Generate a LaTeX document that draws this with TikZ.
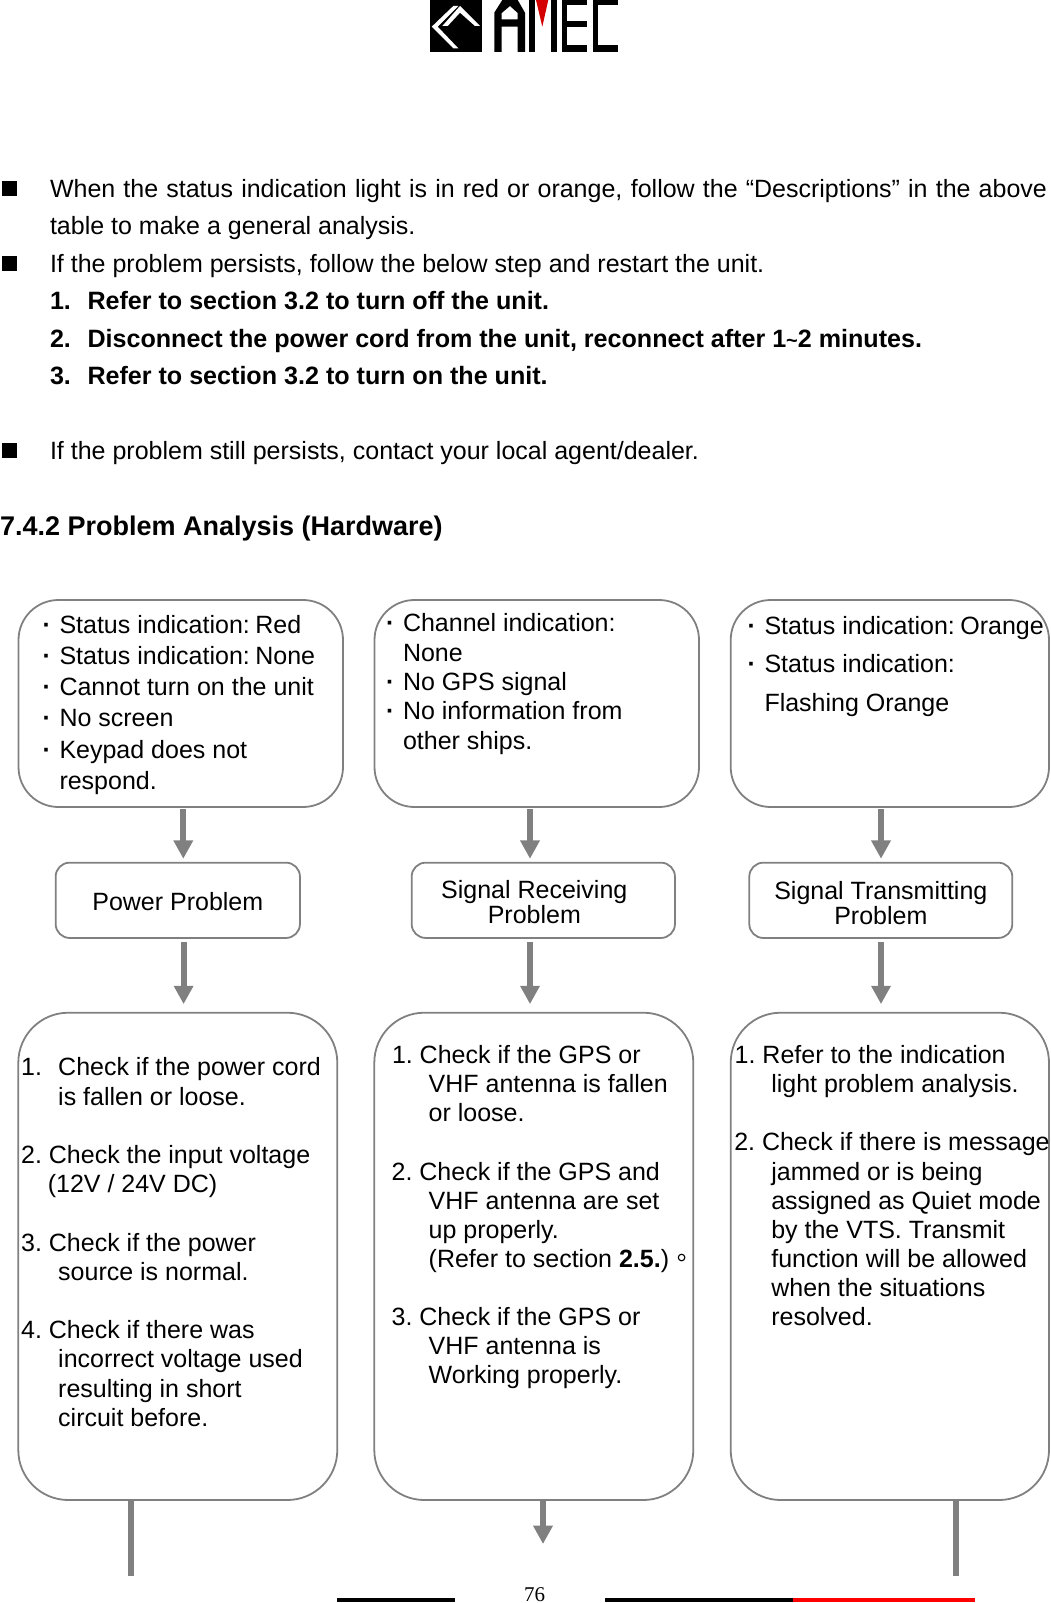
\documentclass[tikz,border=0pt]{standalone}
\usepackage{fontspec}
\setmainfont{Liberation Sans}
\newfontfamily\serifnum{Liberation Serif}
\newfontfamily\cjktc{Noto Sans CJK TC}
\usetikzlibrary{arrows.meta,positioning}

\definecolor{linegray}{HTML}{808080}
\definecolor{logored}{HTML}{D40000}
\newcommand{\dotitem}{\makebox[17pt][l]{\textbf{·}}}
\newcommand{\numitem}[1]{\makebox[37pt][l]{#1}}
\newcommand{\numgap}[1]{#1.\hspace{6.9pt}}
\newcommand{\hangline}{\hspace*{37pt}}

\tikzset{
	bigbox/.style={draw=linegray,line width=1.8pt,inner sep=0pt,outer sep=0pt},
	midbox/.style={bigbox,rounded corners=14pt,minimum height=75.3pt,align=center,font=\fontsize{25pt}{25pt}\selectfont},
	boxtext/.style={inner sep=0pt,outer sep=0pt,anchor=north west,align=left,font=\fontsize{25pt}{#1pt}\selectfont,execute at begin node={\rule{0pt}{20pt}}},
	pageline/.style={inner sep=0pt,outer sep=0pt,anchor=base west,font=\fontsize{25pt}{30pt}\selectfont},
	sqmark/.style={fill=black,inner sep=0pt,outer sep=0pt,minimum size=14.6pt},
	flow/.style={draw=linegray,line width=6pt,-{Triangle[length=18.3pt,width=18.6pt]}},
	stem/.style={draw=linegray,line width=6pt}
}

\begin{document}
\begin{tikzpicture}[x=1pt,y=-1pt]
	\useasboundingbox (0,0) rectangle (1050,1603);

	% logo
	\fill (430,0) rectangle (481.5,52);
	\fill [white] (431.7,26.7) -- (453.3,6) -- (458.3,6) -- (437.7,26.7) -- (458.3,48.3) -- (453.3,48.3) -- cycle;
	\fill [white] (442.3,26) -- (460,6) -- (480,26) -- (475,26) -- (460,12.7) -- (447.7,26) -- cycle;
	\fill [even odd rule] (494.3,52) -- (494.3,12.7) -- (502.3,0) -- (517.7,0) -- (525,12.7) -- (525,52) -- (517.7,52) -- (517.7,26.7) -- (501.7,26.7) -- (501.7,52) -- cycle
		(501.7,19.3) -- (517.7,19.3) -- (517.7,13) -- (510,6) -- (501.7,13) -- cycle;
	\fill (529,0) rectangle (535,52);
	\fill [logored] (536,0) -- (548.3,0) -- (542.3,26.7) -- cycle;
	\fill (550.7,0) rectangle (556.7,52);
	\fill (561.7,0) rectangle (566.7,52);
	\fill (561.7,0) rectangle (587.3,5);
	\fill (561.7,20.7) rectangle (587.3,26.7);
	\fill (561.7,45) rectangle (587.3,52);
	\fill (592.7,0) rectangle (598.3,52);
	\fill (592.7,0) rectangle (617.7,5);
	\fill (592.7,45) rectangle (617.7,52);

	% text above the chart
	\node [sqmark,anchor=north west] (mark1) at (2,181) {};
	\node [pageline] (line1) at (50,197.2) {\makebox[997pt][s]{When the status indication light is in red or orange, follow the “Descriptions” in the above}};
	\node [pageline] (line2) at (50,234.4) {table to make a general analysis.};
	\node [sqmark,anchor=north west] (mark2) at (2,256) {};
	\node [pageline] (line3) at (50,272.2) {If the problem persists, follow the below step and restart the unit.};
	\node [pageline,font=\fontsize{25.1pt}{30pt}\selectfont\bfseries] (step1) at (50,309.2) {\makebox[37.5pt][l]{1.}Refer to section 3.2 to turn off the unit.};
	\node [pageline,font=\fontsize{25.1pt}{30pt}\selectfont\bfseries] (step2) at (50,347.2) {\makebox[37.5pt][l]{2.}Disconnect the power cord from the unit, reconnect after 1{\fontsize{20pt}{20pt}\selectfont\textasciitilde}2 minutes.};
	\node [pageline,font=\fontsize{25.1pt}{30pt}\selectfont\bfseries] (step3) at (50,384.2) {\makebox[37.5pt][l]{3.}Refer to section 3.2 to turn on the unit.};
	\node [sqmark,anchor=north west] (mark3) at (2,443) {};
	\node [pageline] (line4) at (50,459.2) {If the problem still persists, contact your local agent/dealer.};
	\node [pageline,font=\fontsize{27pt}{30pt}\selectfont\bfseries] (title) at (0,535) {7.4.2 Problem Analysis (Hardware)};

	% first row
	\node [bigbox,rounded corners=40pt,minimum width=324.5pt,minimum height=207pt] (a1) at (180.75,703.5) {};
	\node [bigbox,rounded corners=40pt,minimum width=324.5pt,minimum height=207pt] (a2) at (536.75,703.5) {};
	\node [bigbox,rounded corners=40pt,minimum width=318.3pt,minimum height=207pt] (a3) at (889.85,703.5) {};
	\node [boxtext=31.1] (a1text) at (42.5,615.5) {\dotitem Status indication:\hspace{5.5pt}Red\\\dotitem Status indication:\hspace{5.5pt}None\\\dotitem Cannot turn on the unit\\\dotitem No screen\\\dotitem Keypad does not\\\hspace*{17pt}respond.};
	\node [boxtext=29.4] (a2text) at (386,613.5) {\dotitem Channel indication:\\\hspace*{17pt}None\\\dotitem No GPS signal\\\dotitem No information from\\\hspace*{17pt}other ships.};
	\node [boxtext=38.7] (a3text) at (747.5,616.1) {\dotitem Status indication:\hspace{5.5pt}Orange\\\dotitem Status indication:\\\hspace*{17pt}Flashing Orange};

	% second row
	\node [midbox,minimum width=244.3pt] (m1) at (177.8,900.3) {\rule{0pt}{20.5pt}Power Problem};
	\node [midbox,minimum width=263.3pt] (m2) at (543.3,900.3) {\rule{0pt}{21pt}Signal Receiving\hspace*{18pt}\\Problem\hspace*{18pt}};
	\node [midbox,minimum width=263pt] (m3) at (880.8,900.3) {\rule{0pt}{23.2pt}Signal Transmitting\\Problem};

	% third row
	\node [bigbox,rounded corners=50pt,minimum width=319pt,minimum height=487.3pt] (b1) at (177.8,1256.35) {};
	\node [bigbox,rounded corners=50pt,minimum width=319pt,minimum height=487.3pt] (b2) at (533.8,1256.35) {};
	\node [bigbox,rounded corners=50pt,minimum width=318.3pt,minimum height=487.3pt] (b3) at (889.85,1256.35) {};
	\node [boxtext=29.2] (b1text) at (21.2,1057.8) {\numitem{1.}Check if the power cord\\\hangline is fallen or loose.\\[29.2pt]\numgap{2}Check the input voltage\\\hspace*{26.6pt}(12V / 24V DC)\\[29.2pt]\numgap{3}Check if the power\\\hangline source is normal.\\[29.2pt]\numgap{4}Check if there was\\\hangline incorrect voltage used\\\hangline resulting in short\\\hangline circuit before.};
	\node [boxtext=29.1] (b2text) at (391.7,1045.5) {\hspace*{0.3pt}\numgap{1}Check if the GPS or\\\hangline VHF antenna is fallen\\\hangline or loose.\\[29.1pt]\numgap{2}Check if the GPS and\\\hangline VHF antenna are set\\\hangline up properly.\\\hangline (Refer to section \textbf{2.5.}){\cjktc 。}\\[29.1pt]\numgap{3}Check if the GPS or\\\hangline VHF antenna is\\\hangline Working properly.};
	\node [boxtext=29.1] (b3text) at (734.3,1045.5) {\hspace*{0.4pt}\numgap{1}Refer to the indication\\\hangline light problem analysis.\\[29.1pt]\numgap{2}Check if there is message\\\hangline jammed or is being\\\hangline assigned as Quiet mode\\\hangline by the VTS. Transmit\\\hangline function will be allowed\\\hangline when the situations\\\hangline resolved.};

	% connectors
	\draw [flow,shorten <=2.3pt,shorten >=3.9pt] ([xshift=2.55pt]a1.south) -- ([xshift=5.5pt]m1.north);
	\draw [flow,shorten <=2.3pt,shorten >=3.9pt] ([xshift=-6.75pt]a2.south) -- ([xshift=-13.3pt]m2.north);
	\draw [flow,shorten <=2.3pt,shorten >=3.9pt] ([xshift=-8.85pt]a3.south) -- ([xshift=0.2pt]m3.north);
	\draw [flow,shorten <=4.3pt,shorten >=8.6pt] ([xshift=5.8pt]m1.south) -- ([xshift=5.8pt]b1.north);
	\draw [flow,shorten <=4.3pt,shorten >=8.6pt] ([xshift=-13.3pt]m2.south) -- ([xshift=-3.8pt]b2.north);
	\draw [flow,shorten <=4.3pt,shorten >=8.6pt] ([xshift=0.2pt]m3.south) -- ([xshift=-8.85pt]b3.north);

	% lines running on to the next page
	\coordinate (end1) at (131,1576);
	\coordinate (end2) at (543,1544);
	\coordinate (end3) at (956,1576);
	\draw [stem] (end1 |- b1.south) -- (end1);
	\draw [flow] (end2 |- b2.south) -- (end2);
	\draw [stem] (end3 |- b3.south) -- (end3);

	% foot of the page
	\node [anchor=base,inner sep=0pt,font=\fontsize{21pt}{24pt}\serifnum] (pagenum) at (534.5,1601.5) {76};
	\fill (337,1598) rectangle (454.5,1602.3);
	\fill (605,1598) rectangle (793,1602.3);
	\fill [red] (793,1598) rectangle (974.6,1602.3);
\end{tikzpicture}
\end{document}
